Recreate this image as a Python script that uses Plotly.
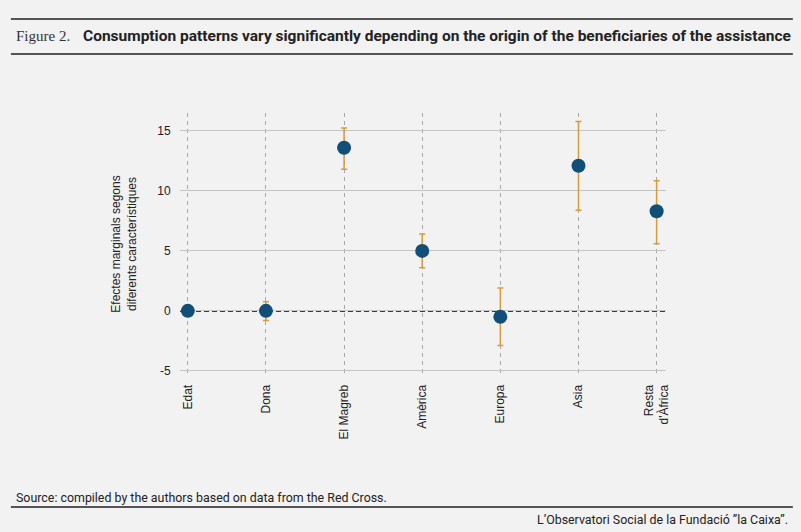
import plotly.graph_objects as go

# data
categories = ["Edat", "Dona", "El Magreb", "Amèrica", "Europa", "Asia", "Resta<br>d'Àfrica"]
effect = [0.0, 0.0, 13.6, 5.0, -0.5, 12.1, 8.3]
upper = [0.0, 0.75, 15.25, 6.4, 1.9, 15.8, 10.85]
lower = [0.0, -0.8, 11.8, 3.6, -2.9, 8.4, 5.6]
y_ticks = [-5, 0, 5, 10, 15]
y_ticklabels = ["-5", "0", "5", "10", "15"]

err_plus = [u - e for u, e in zip(upper, effect)]
err_minus = [e - l for e, l in zip(effect, lower)]

BG = "#f2f2f2"
BLUE = "#114e78"
GOLD = "#d69c3c"
NARROW = "Liberation Sans Narrow, Roboto"

fig = go.Figure()

fig.add_trace(go.Scatter(
    x=list(range(len(categories))), y=effect, mode="markers",
    marker=dict(color=BLUE, size=14),
    error_y=dict(type="data", symmetric=False, array=err_plus, arrayminus=err_minus,
                 color=GOLD, thickness=1.5, width=3),
    showlegend=False,
))

# dashed zero reference line
fig.add_hline(y=0, line=dict(color="#000000", width=1.6, dash="5px,3px"), layer="below")

# header / footer rules
for yy in [1.359, 1.225, -0.504]:
    fig.add_shape(type="line", xref="paper", yref="paper", x0=-0.348, x1=1.261, y0=yy, y1=yy,
                  line=dict(color="#555555", width=2))

fig.add_annotation(xref="paper", yref="paper", x=-0.342, y=1.292, xanchor="left", yanchor="middle",
                   text="Figure 2.", showarrow=False,
                   font=dict(family="Liberation Serif, DejaVu Serif", size=15, color="#333333"))
fig.add_annotation(xref="paper", yref="paper", x=-0.203, y=1.292, xanchor="left", yanchor="middle",
                   text="<b>Consumption patterns vary significantly depending on the origin of the beneficiaries of the assistance</b>",
                   showarrow=False,
                   font=dict(family=NARROW, size=15.5, color="#222222"))
fig.add_annotation(xref="paper", yref="paper", x=-0.342, y=-0.466, xanchor="left", yanchor="middle",
                   text="Source: compiled by the authors based on data from the Red Cross.", showarrow=False,
                   font=dict(family=NARROW, size=12.4, color="#222222"))
fig.add_annotation(xref="paper", yref="paper", x=1.255, y=-0.55, xanchor="right", yanchor="middle",
                   text="L’Observatori Social de la Fundació ”la Caixa”.", showarrow=False,
                   font=dict(family=NARROW, size=12.4, color="#222222"))

fig.update_xaxes(
    range=[-0.1, 6.12], tickmode="array", tickvals=list(range(len(categories))), ticktext=categories,
    tickangle=-90, showgrid=True, gridcolor="#a8a8a8", griddash="4px,4px", gridwidth=1,
    zeroline=False, showline=False, ticks="outside", ticklen=4, tickcolor=BG,
    tickfont=dict(size=12, color="#222222"),
)
fig.update_yaxes(
    range=[-5.35, 16.5], tickmode="array", tickvals=y_ticks, ticktext=y_ticklabels,
    showgrid=True, gridcolor="#c4c4c4",
    zeroline=False, showline=False, ticks="outside", ticklen=6, tickcolor=BG,
    tickfont=dict(size=12, color="#222222"),
    title=dict(text="Efectes marginals segons<br>diferents característiques",
               font=dict(size=12, color="#222222"), standoff=18),
)

fig.update_layout(
    width=801, height=532, paper_bgcolor=BG, plot_bgcolor=BG,
    margin=dict(l=180, r=135, t=113, b=157),
    font=dict(family="Liberation Sans, Arial", color="#222222"),
)

fig.write_html("out.html", config={"displayModeBar": False},
               post_script="document.body.style.margin='0';document.body.style.background='#f2f2f2';")
